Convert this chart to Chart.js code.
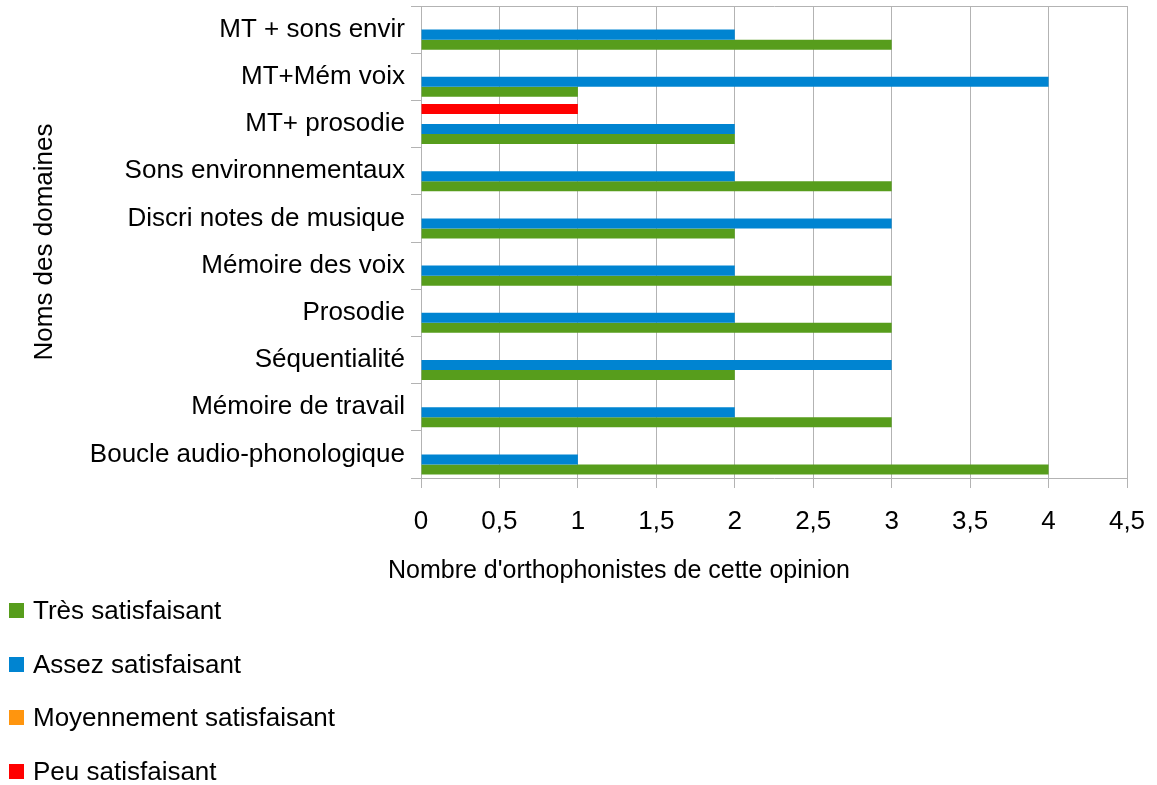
<!DOCTYPE html>
<html>
<head>
<meta charset="utf-8">
<script src="https://cdn.jsdelivr.net/npm/chart.js@4/dist/chart.umd.min.js"></script>
<style>
  body { margin: 0; background: #fff; font-family: "Liberation Sans", Arial, sans-serif; }
  #wrap { position: relative; width: 1157px; height: 785px; }
  #chart { position: absolute; left: 0; top: 0; }
  #xtitle { position: absolute; left: 388px; top: 555px; font-size: 25px; color: #000; white-space: nowrap; }
  #legend { position: absolute; left: 9px; top: 584px; }
  .item { height: 53.5px; display: flex; align-items: center; font-size: 26px; color: #000; }
  .item span.box { display: inline-block; width: 15px; height: 15px; margin-right: 9px; }
</style>
</head>
<body>
<div id="wrap">
  <canvas id="chart" width="1157" height="600"></canvas>
  <div id="xtitle"></div>
  <div id="legend"></div>
</div>
<script>
// categories, top to bottom as in the picture
let categories = [
  "MT + sons envir",
  "MT+Mém voix",
  "MT+ prosodie",
  "Sons environnementaux",
  "Discri notes de musique",
  "Mémoire des voix",
  "Prosodie",
  "Séquentialité",
  "Mémoire de travail",
  "Boucle audio-phonologique"
];

let tresSatisfaisant    = [3, 1, 2, 3, 2, 3, 3, 2, 3, 4];
let assezSatisfaisant   = [2, 4, 2, 2, 3, 2, 2, 3, 2, 1];
let moyenSatisfaisant   = [0, 0, 0, 0, 0, 0, 0, 0, 0, 0];
let peuSatisfaisant     = [0, 0, 1, 0, 0, 0, 0, 0, 0, 0];

let seriesNames = ["Très satisfaisant", "Assez satisfaisant", "Moyennement satisfaisant", "Peu satisfaisant"];
let seriesColors = ["#579d1c", "#0084d1", "#ff950e", "#ff0000"];

let xTitle = "Nombre d'orthophonistes de cette opinion";
let yTitle = "Noms des domaines";

const gridColor = "#b3b3b3";
const font = { family: "'Liberation Sans', Arial, sans-serif", size: 26 };

// legend (vertical list under the chart)
let legendHtml = "";
for (let i = 0; i < seriesNames.length; i++) {
  legendHtml += `<div class="item"><span class="box" style="background:${seriesColors[i]}"></span>${seriesNames[i]}</div>`;
}
document.getElementById("legend").innerHTML = legendHtml;
document.getElementById("xtitle").textContent = xTitle;

// in a horizontal bar chart the first dataset sits on top of each band,
// so the series go in reverse legend order
let values = [tresSatisfaisant, assezSatisfaisant, moyenSatisfaisant, peuSatisfaisant];
let datasets = [];
for (let i = values.length - 1; i >= 0; i--) {
  datasets.push({
    label: seriesNames[i],
    data: values[i],
    backgroundColor: seriesColors[i],
    borderWidth: 0,
    categoryPercentage: 0.85,
    barPercentage: 1
  });
}

// keep the plot box where it is in the picture (labels may overflow it)
function noPadding(scale) {
  scale.paddingTop = 0;
  scale.paddingBottom = 0;
  scale.paddingLeft = 0;
  scale.paddingRight = 0;
}

const ctx = document.getElementById("chart").getContext("2d");
new Chart(ctx, {
  type: "bar",
  data: { labels: categories, datasets: datasets },
  options: {
    indexAxis: "y",
    responsive: false,
    animation: false,
    layout: { autoPadding: false, padding: { top: 0, right: 30, bottom: 0, left: 0 } },
    scales: {
      x: {
        type: "linear",
        position: "bottom",
        min: 0,
        max: 4.5,
        afterFit: (scale) => { scale.height = 600 - 478; noPadding(scale); },
        ticks: {
          stepSize: 0.5,
          color: "#000",
          font: font,
          padding: 18,
          callback: (v) => String(v).replace(".", ",")
        },
        grid: { color: gridColor, tickLength: 10, lineWidth: 1 },
        border: { display: true, color: gridColor }
      },
      xTop: {
        type: "linear",
        position: "top",
        min: 0,
        max: 4.5,
        afterFit: (scale) => { scale.height = 6; noPadding(scale); },
        ticks: { display: false },
        grid: { display: false },
        border: { display: true, color: gridColor }
      },
      y: {
        type: "category",
        afterFit: (scale) => { scale.width = 421; noPadding(scale); },
        ticks: { color: "#000", font: font, padding: 6 },
        grid: { offset: true, drawOnChartArea: false, color: gridColor, tickLength: 10 },
        border: { display: true, color: gridColor },
        title: {
          display: true,
          text: yTitle,
          color: "#000",
          font: font,
          padding: { top: 29, bottom: 0 }
        }
      }
    },
    plugins: {
      legend: { display: false },
      tooltip: { enabled: false }
    }
  }
});
</script>
</body>
</html>
